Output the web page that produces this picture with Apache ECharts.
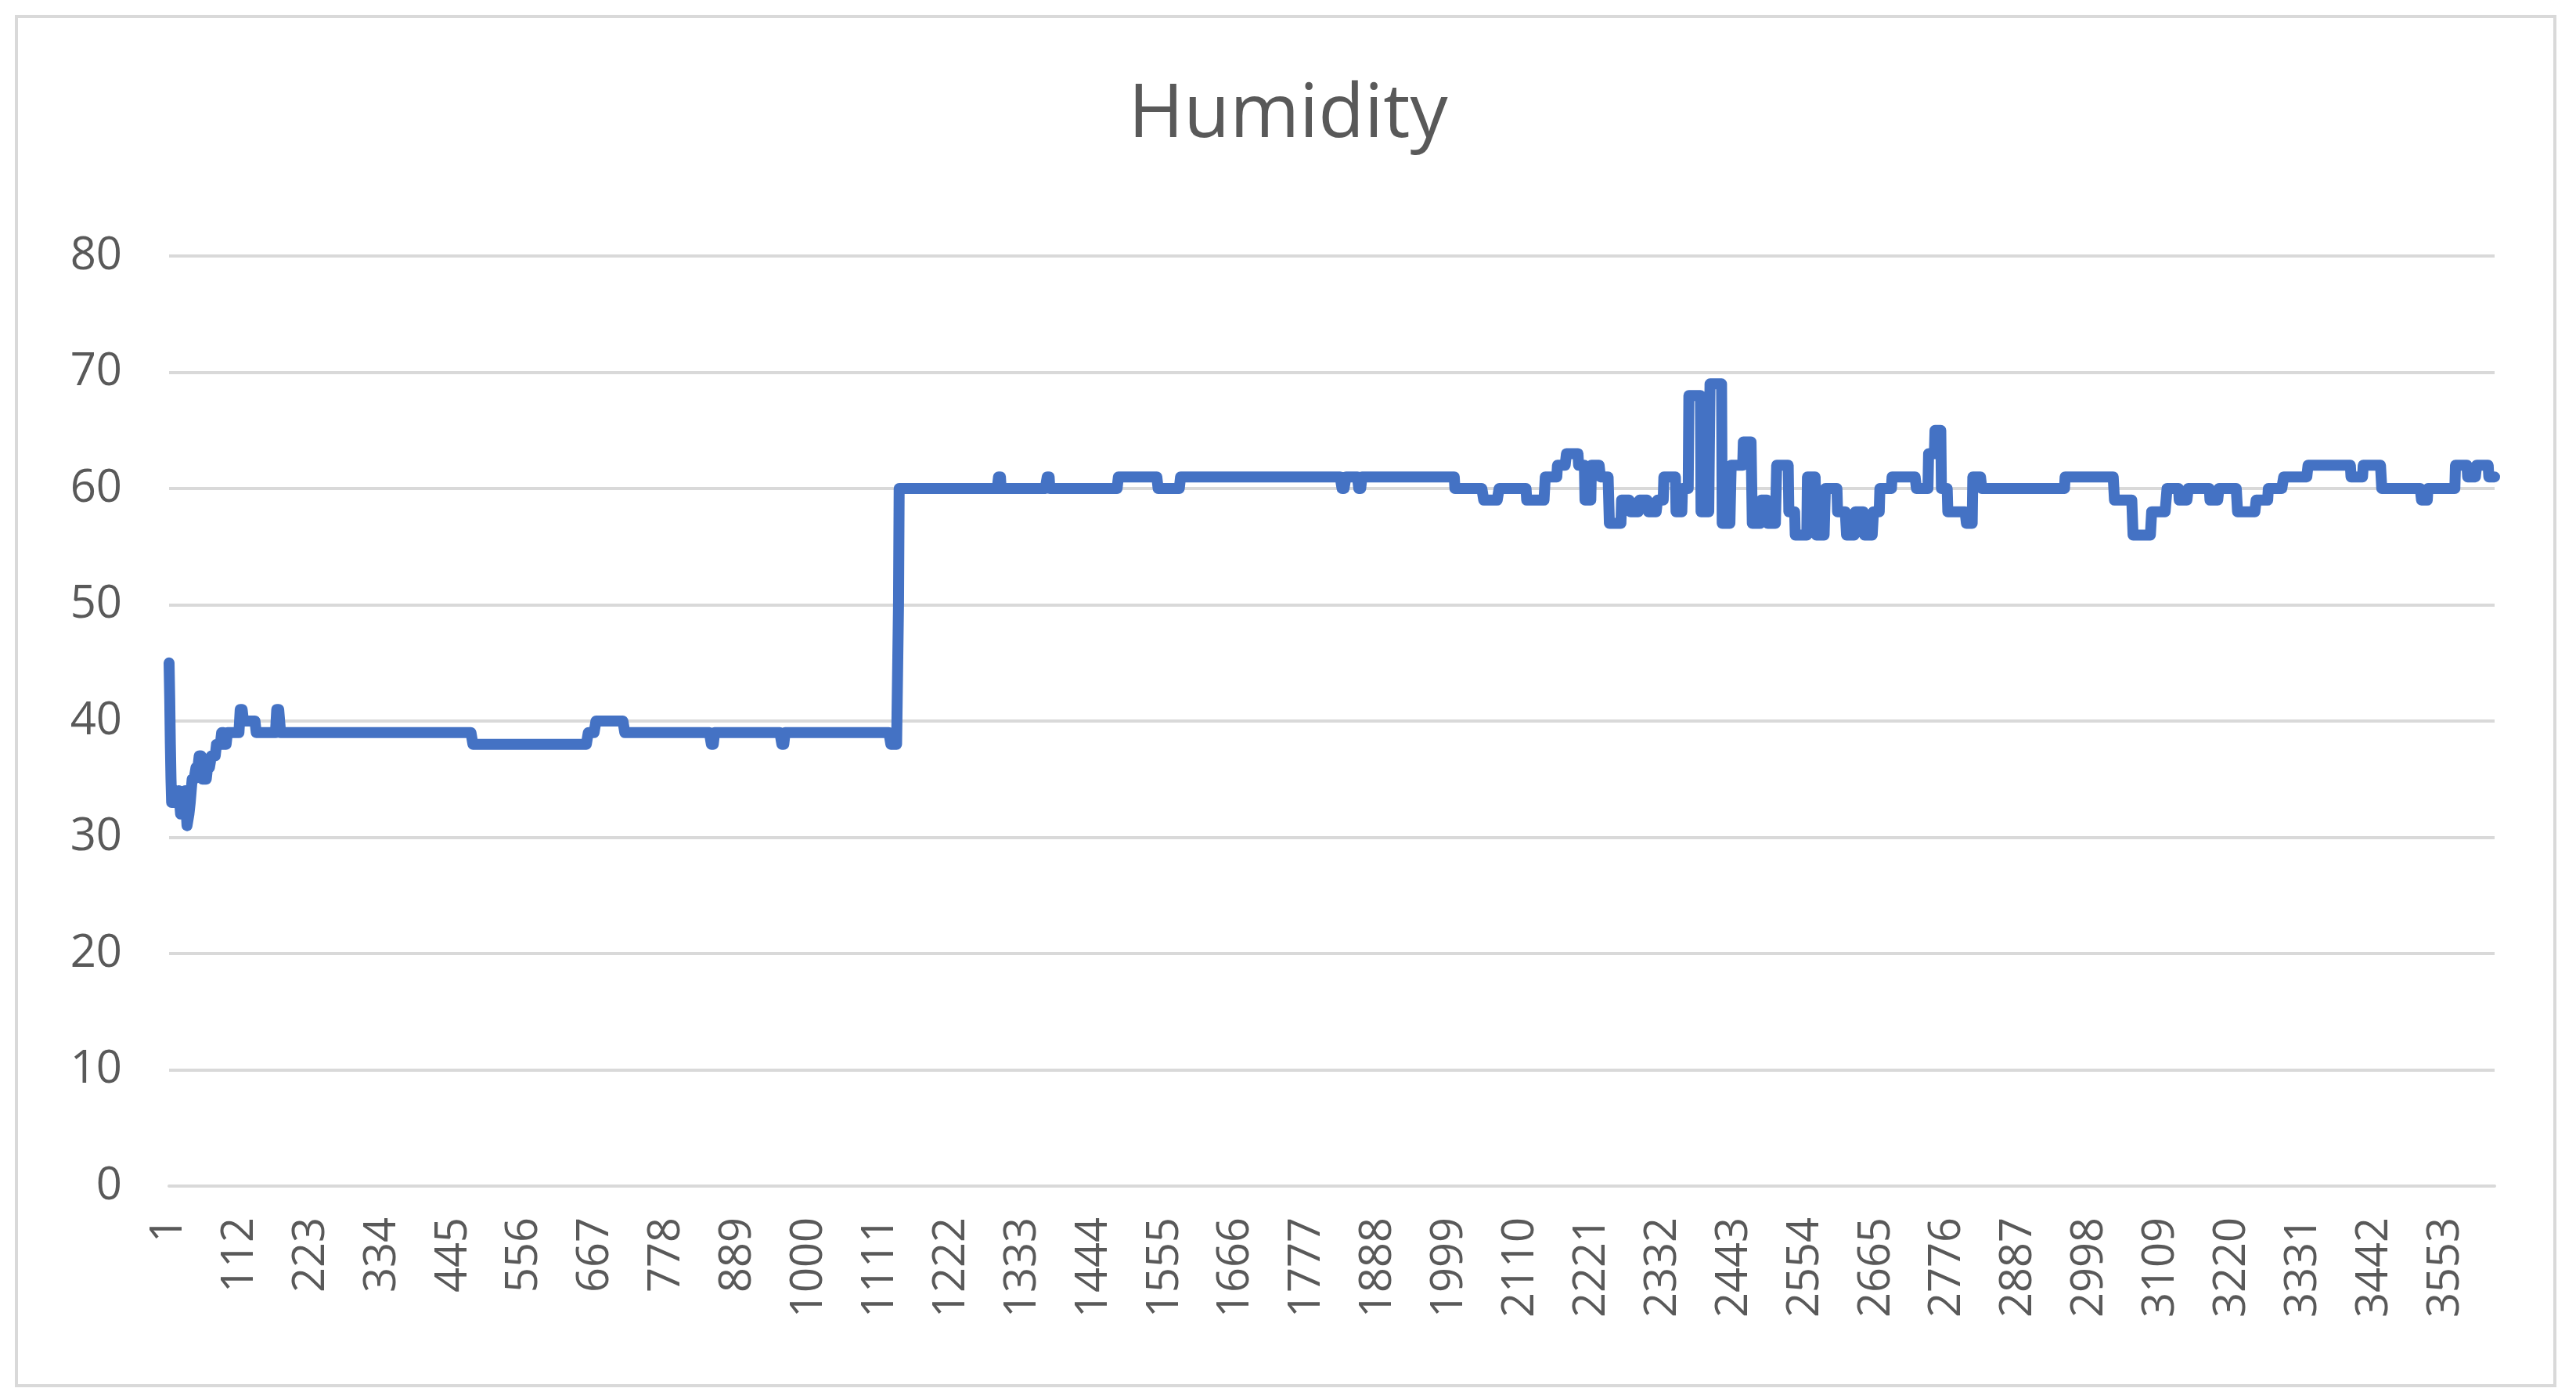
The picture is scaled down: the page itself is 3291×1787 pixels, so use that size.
<!DOCTYPE html>
<html>
<head>
<meta charset="utf-8">
<script src="https://cdn.jsdelivr.net/npm/echarts@6/dist/echarts.min.js"></script>
<style>
  html, body { margin: 0; padding: 0; background: #fff; }
  #main { width: 3291px; height: 1787px; }
</style>
</head>
<body>
<div id="main"></div>
<script>
// humidity readings as runs of [value, how many samples in a row]
var runsStart = [
    [45, 1], [42, 1], [38, 1], [35, 1], [33, 4], [34, 3], [33, 4], [34, 3], [32, 3], [33, 4],
    [34, 3], [31, 3], [32, 2], [33, 3],
    [35, 6], [36, 5], [37, 5], [35, 8], [36, 6], [37, 8], [38, 8], [39, 4], [38, 5],
    [39, 20], [41, 5], [40, 20], [39, 32], [41, 6], [39, 300], [38, 180], [39, 12], [40, 45],
    [39, 135], [38, 5], [39, 105], [38, 5], [39, 165], [38, 12]
];
var runsMiddle = [
    [50, 1], [60, 155], [61, 4], [60, 72], [61, 4], [60, 107], [61, 62], [60, 35], [61, 252],
    [60, 6], [61, 20], [60, 5], [61, 145], [60, 45]
];
var runsEnd = [
    [59, 24], [60, 43], [59, 29], [61, 19], [62, 14], [63, 19], [62, 10], [59, 10], [62, 14], [61, 14],
    [57, 19], [59, 14], [58, 14], [59, 14], [58, 14], [59, 10], [61, 19], [58, 10], [60, 10], [68, 19],
    [58, 14], [69, 19], [57, 14], [62, 19], [64, 14], [57, 14], [59, 10], [57, 14], [62, 19], [58, 10],
    [56, 19], [61, 14], [56, 14], [60, 19], [58, 14], [56, 14], [58, 14], [56, 14], [58, 10], [60, 19],
    [61, 38], [60, 19], [63, 10], [65, 10], [60, 10], [58, 29], [57, 10], [61, 14], [60, 130], [61, 77],
    [59, 29], [56, 29], [58, 24], [60, 19], [59, 14], [60, 34], [59, 14], [60, 29], [58, 29], [59, 19],
    [60, 24], [61, 38], [62, 67], [61, 19], [62, 29], [60, 62], [59, 10], [60, 43], [62, 19], [61, 14],
    [62, 19], [61, 10]
];
var yTicks = [0, 10, 20, 30, 40, 50, 60, 70, 80];

var values = [];
runsStart.concat(runsMiddle, runsEnd).forEach(function(run) {
    for (var i = 0; i < run[1]; i++) {
        values.push(run[0]);
    }
});
var categories = values.map(function(v, i) { return String(i + 1); });

var myChart = echarts.init(document.getElementById('main'));

var option = {
    backgroundColor: '#fff',
    animation: false,
    title: {
        text: 'Humidity',
        left: 'center',
        top: 95,
        textStyle: {
            fontFamily: 'Open Sans',
            fontSize: 96,
            fontWeight: 'normal',
            color: '#595959'
        }
    },
    graphic: [{
        type: 'rect',
        shape: { x: 21, y: 21, width: 3243, height: 1749 },
        style: { fill: 'none', stroke: '#D9D9D9', lineWidth: 4 }
    }],
    grid: {
        left: 216,
        right: 104,
        top: 327,
        bottom: 272
    },
    xAxis: {
        type: 'category',
        data: categories,
        boundaryGap: false,
        axisLine: { lineStyle: { color: '#D9D9D9', width: 4 } },
        axisTick: { show: false },
        axisLabel: {
            interval: 110,
            rotate: 90,
            margin: 40,
            fontFamily: 'Open Sans',
            fontSize: 56,
            color: '#595959'
        }
    },
    yAxis: {
        type: 'value',
        min: yTicks[0],
        max: yTicks[yTicks.length - 1],
        interval: 10,
        axisLine: { show: false },
        axisTick: { show: false },
        splitLine: { lineStyle: { color: '#D9D9D9', width: 4 } },
        axisLabel: {
            margin: 60,
            fontFamily: 'Open Sans',
            fontSize: 58,
            color: '#595959'
        }
    },
    series: [{
        name: 'Humidity',
        type: 'line',
        data: values,
        showSymbol: false,
        lineStyle: { color: '#4472C4', width: 14, cap: 'round', join: 'round' }
    }]
};
myChart.setOption(option);
</script>
</body>
</html>
